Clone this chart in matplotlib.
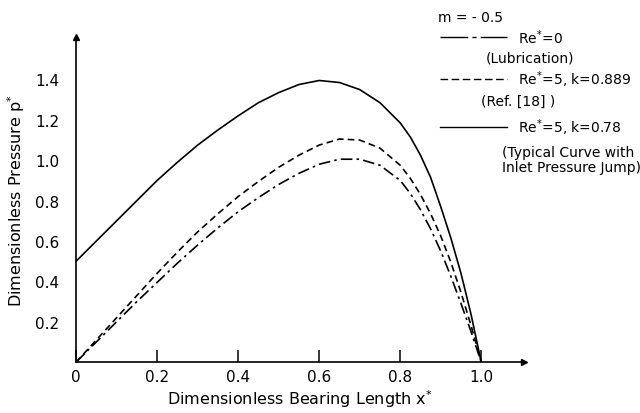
import matplotlib
matplotlib.use("Agg")
import matplotlib.pyplot as plt
from matplotlib.lines import Line2D

# dimensionless bearing length
x = [0.0, 0.05, 0.1, 0.15, 0.2, 0.25, 0.3, 0.35, 0.4, 0.45, 0.5, 0.55,
     0.6, 0.65, 0.7, 0.75, 0.8, 0.825, 0.85, 0.875, 0.9, 0.925, 0.95, 0.975, 1.0]

# Re*=0 (lubrication)
p_lub = [0.0, 0.10, 0.20, 0.30, 0.395, 0.49, 0.58, 0.665, 0.745, 0.815, 0.88, 0.935,
         0.98, 1.005, 1.005, 0.975, 0.90, 0.835, 0.755, 0.66, 0.55, 0.425, 0.29, 0.15, 0.0]
# Re*=5, k=0.889 (Ref. [18])
p_ref = [0.0, 0.11, 0.22, 0.33, 0.44, 0.545, 0.645, 0.735, 0.82, 0.895, 0.965, 1.025,
         1.075, 1.105, 1.10, 1.06, 0.975, 0.91, 0.83, 0.735, 0.625, 0.495, 0.345, 0.18, 0.0]
# Re*=5, k=0.78 (inlet pressure jump)
p_jump = [0.50, 0.60, 0.70, 0.80, 0.90, 0.99, 1.075, 1.15, 1.22, 1.285, 1.335, 1.375,
          1.395, 1.385, 1.35, 1.285, 1.185, 1.115, 1.025, 0.915, 0.77, 0.615, 0.44, 0.235, 0.0]

xticks = [0, 0.2, 0.4, 0.6, 0.8, 1.0]
xticklabels = ["0", "0.2", "0.4", "0.6", "0.8", "1.0"]
yticks = [0.2, 0.4, 0.6, 0.8, 1.0, 1.2, 1.4]
yticklabels = ["0.2", "0.4", "0.6", "0.8", "1.0", "1.2", "1.4"]

plt.rcParams["font.family"] = "DejaVu Sans"
plt.rcParams["mathtext.fontset"] = "dejavusans"

fig = plt.figure(figsize=(6.4, 4.14), dpi=100)
ax = fig.add_axes([0.119, 0.123, 0.70, 0.785])

dashdot = (0, (7, 2.5, 1.5, 2.5))
dashed = (0, (4, 2.5))
ax.plot(x, p_lub, color="black", lw=1.2, linestyle=dashdot)
ax.plot(x, p_ref, color="black", lw=1.2, linestyle=dashed)
ax.plot(x, p_jump, color="black", lw=1.2)

ax.set_xlim(0, 1.106)
ax.set_ylim(0, 1.61)
ax.spines["top"].set_visible(False)
ax.spines["right"].set_visible(False)
ax.spines["left"].set_linewidth(1.2)
ax.spines["bottom"].set_linewidth(1.2)
ax.plot(1, 0, ">k", transform=ax.transAxes, clip_on=False, markersize=5)
ax.plot(0, 1, "^k", transform=ax.transAxes, clip_on=False, markersize=5)

ax.set_xticks(xticks)
ax.set_xticklabels(xticklabels, fontsize=11)
ax.set_yticks(yticks)
ax.set_yticklabels(yticklabels, fontsize=11)
ax.tick_params(axis="x", direction="in", length=9, width=1.1, pad=5)
ax.tick_params(axis="y", length=0, pad=12)

ax.set_xlabel("Dimensionless Bearing Length x$^{*}$", fontsize=11.5, labelpad=2)
ax.set_ylabel("Dimensionless Pressure p$^{*}$", fontsize=11.5, labelpad=6)

# hand-drawn style legend to the upper right
W, H = 640.0, 414.0
def fx(px):
    return px / W
def fy(py):
    return 1 - py / H

fs = 10
fig.text(fx(438), fy(18), "m = - 0.5", fontsize=fs, va="center", ha="left")
fig.add_artist(Line2D([fx(440), fx(507)], [fy(38), fy(38)], color="black", lw=1.0,
                      linestyle=(0, (20, 3, 3, 3, 30, 1))))
fig.text(fx(518), fy(38), "Re$^{*}$=0", fontsize=fs, va="center", ha="left")
fig.text(fx(530), fy(58), "(Lubrication)", fontsize=fs, va="center", ha="center")
fig.add_artist(Line2D([fx(440), fx(507)], [fy(80), fy(80)], color="black", lw=1.0,
                      linestyle=(0, (5.5, 2.5))))
fig.text(fx(518), fy(80), "Re$^{*}$=5, k=0.889", fontsize=fs, va="center", ha="left")
fig.text(fx(518), fy(102), "(Ref. [18] )", fontsize=fs, va="center", ha="center")
fig.add_artist(Line2D([fx(440), fx(507)], [fy(128), fy(128)], color="black", lw=1.0))
fig.text(fx(518), fy(128), "Re$^{*}$=5, k=0.78", fontsize=fs, va="center", ha="left")
fig.text(fx(568), fy(153), "(Typical Curve with", fontsize=fs, va="center", ha="center")
fig.text(fx(571), fy(168), "Inlet Pressure Jump)", fontsize=fs, va="center", ha="center")

fig.savefig("out.png", dpi=100)
